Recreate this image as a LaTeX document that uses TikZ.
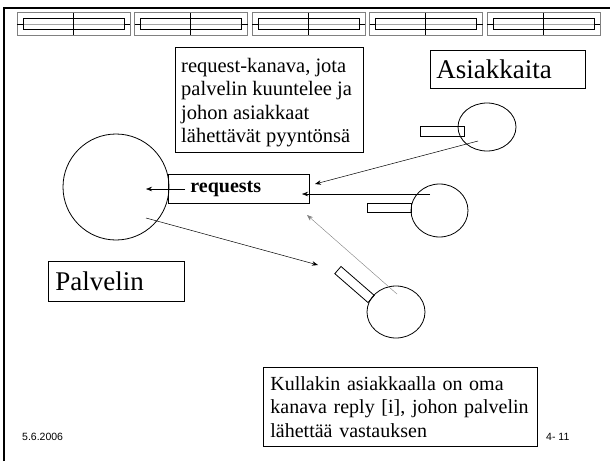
\documentclass[tikz,border=0pt]{standalone}
\usepackage{fontspec}
\setmainfont{Liberation Serif}
\newfontfamily\footfont{Liberation Sans}
\usetikzlibrary{arrows.meta,shapes.geometric}
\begin{document}
\begin{tikzpicture}[x=1pt,y=-1pt,
  box/.style={draw, line width=0.8pt, rectangle, inner ysep=0pt, align=left, anchor=north west},
  body/.style={font=\fontsize{20.5}{23.3}\selectfont},
  big/.style={font=\fontsize{27}{30}\selectfont},
  conn/.style={-{Stealth[length=6pt,width=4.5pt]}, line width=0.5pt},
  faint/.style={-{Stealth[length=6pt,width=4.5pt]}, line width=0.4pt, gray},
  shapeline/.style={draw, line width=0.8pt},
  clientrect/.style={shapeline, rectangle, inner sep=0pt, minimum width=44pt, minimum height=9.5pt},
  foot/.style={font=\footfont\fontsize{10.5}{12}\selectfont, anchor=west, inner sep=0pt}]
\useasboundingbox (0,0) rectangle (610,461);
\fill[white] (0,0) rectangle (610,461);
% slide frame
\draw[line width=2pt] (4,461) -- (4,7.5) -- (610,7.5);
% top decoration
\foreach \i in {0,...,4} {
  \pgfmathsetmacro\L{17+117.5*\i}
  \draw[gray, line width=1pt] (\L,12.7) rectangle ++(113,22.3);
  \draw[gray!70, line width=0.8pt] (\L+6,24) -- (\L+107,24);
  \draw[line width=1pt] (\L+6,18.3) rectangle ++(101,11);
  \draw[line width=0.8pt] (\L,24) -- (\L+6,24) (\L+107,24) -- (\L+113,24);
  \draw[line width=1pt] (\L+56,12.7) -- (\L+56,35);
}
% text boxes
\node[box, minimum width=188pt, minimum height=105pt] (kanava) at (175,47) {};
\node[body, align=left, anchor=north west, inner sep=0pt] (kanavatext) at ([xshift=6pt, yshift=-11pt]kanava.north west)
  {request-kanava, jota\\ palvelin kuuntelee ja\\ johon asiakkaat\\ lähettävät pyyntönsä};
\node[box, big, minimum height=38pt, text width=143pt, inner xsep=6pt] (asiakkaita) at (430,50) {Asiakkaita};
\node[box, big, minimum height=40pt, text width=122pt, inner xsep=7pt] (palvelin) at (48,261) {Palvelin};
\node[box, minimum height=29pt, text width=97pt, inner xsep=22pt, font=\fontsize{20}{23}\selectfont\bfseries] (requests) at (168,174) {requests};
\node[box, font=\fontsize{20}{23.5}\selectfont, minimum height=79pt, text width=260pt, inner xsep=7pt] (reply) at (263,367)
  {Kullakin asiakkaalla on oma\\ kanava reply [i], johon palvelin\\ lähettää vastauksen};
% server
\node[shapeline, circle, minimum size=106pt, inner sep=0pt] (server) at (116,187) {};
% clients
\node[clientrect] (r1) at (442,131.5) {};
\node[shapeline, ellipse, minimum width=58pt, minimum height=48pt, inner sep=0pt] (c1) at (487,127) {};
\node[clientrect] (r2) at (389,208) {};
\node[shapeline, ellipse, minimum width=57pt, minimum height=53pt, inner sep=0pt] (c2) at (439.5,210.5) {};
\node[clientrect, rotate=-41] (r3) at (354.5,284.5) {};
\node[shapeline, ellipse, minimum width=58pt, minimum height=52pt, inner sep=0pt] (c3) at (396,312) {};
% connector ends
\coordinate (a1s) at (478,141);
\coordinate (a1e) at (315,184);
\coordinate (a2s) at (430,194);
\coordinate (a2e) at (302,194);
\coordinate (a3s) at (397,294);
\coordinate (a3e) at (307,215);
\coordinate (a4s) at (146,218);
\coordinate (a4e) at (318,265);
\coordinate (a5s) at (185,189);
\coordinate (a5e) at (146,189);
\draw[conn] (a1s) -- (a1e);
\draw[conn] (a2s) -- (a2e);
\draw[faint] (a3s) -- (a3e);
\draw[conn] (a4s) -- (a4e);
\draw[conn] (a5s) -- (a5e);
% footer
\node[foot] (date) at (22,437) {5.6.2006};
\node[foot] (page) at (546,437) {4- 11};
\end{tikzpicture}
\end{document}
